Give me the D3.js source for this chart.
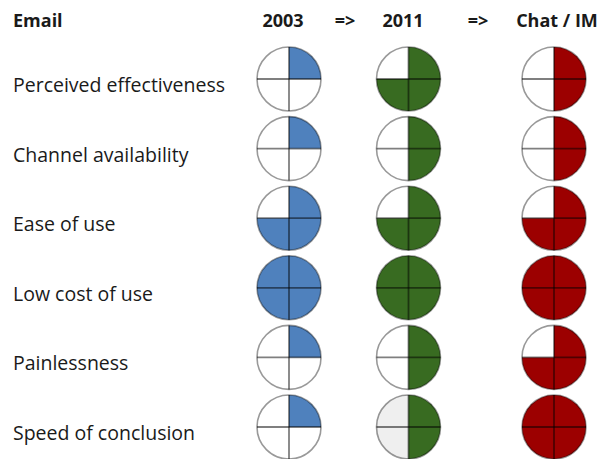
<!DOCTYPE html>
<html>
<head>
<meta charset="utf-8">
<script src="https://cdn.jsdelivr.net/npm/d3@7"></script>
<style>
  html, body { margin: 0; padding: 0; background: #fff; }
  svg { display: block; }
  text { font-family: "Open Sans", "Noto Sans", sans-serif; fill: #1a1a1a; }
</style>
</head>
<body>
<svg id="chart" width="603" height="459"></svg>
<script>
// Harvey-ball comparison of communication channels (scores in quarters, 0-4)
const categories = [
  "Perceived effectiveness",
  "Channel availability",
  "Ease of use",
  "Low cost of use",
  "Painlessness",
  "Speed of conclusion"
];
const series = ["2003", "2011", "Chat / IM"];
const values2003 = [1, 1, 3, 4, 1, 1];
const values2011 = [3, 2, 3, 4, 2, 2];
const valuesChat = [2, 2, 3, 4, 3, 4];
// cells whose unfilled part is shaded light grey (series, category)
const shadedRest = [["2011", "Speed of conclusion"]];

const headerLabels = ["Email", "2003", "=>", "2011", "=>", "Chat / IM"];
const seriesColors = ["#4f81bd", "#386b21", "#9c0000"];

const svg = d3.select("#chart");

const x = d3.scaleOrdinal().domain(series).range([289, 408.5, 554]);
const headerX = d3.scaleOrdinal().domain(d3.range(headerLabels.length))
  .range([13, 283, 345, 403, 478, 557]);
const y = d3.scalePoint().domain(categories).range([79, 427]);
const color = d3.scaleOrdinal().domain(series).range(seriesColors);
const quarter = d3.scaleLinear().domain([0, 4]).range([0, 2 * Math.PI]);

const r = 32;
const arc = d3.arc().innerRadius(0).outerRadius(r);

// header row
svg.append("g").selectAll("text")
  .data(headerLabels)
  .join("text")
  .attr("x", (d, i) => headerX(i))
  .attr("y", 27)
  .attr("text-anchor", (d, i) => i === 0 ? "start" : "middle")
  .attr("font-size", 18)
  .attr("font-weight", 700)
  .text(d => d);

// row labels
svg.append("g").selectAll("text")
  .data(categories)
  .join("text")
  .attr("x", 13)
  .attr("y", d => y(d) + 13)
  .attr("font-size", 19.5)
  .text(d => d);

// cells
const table = { "2003": values2003, "2011": values2011, "Chat / IM": valuesChat };
const cells = [];
series.forEach(s => categories.forEach((c, i) => {
  cells.push({
    series: s,
    category: c,
    value: table[s][i],
    shaded: shadedRest.some(p => p[0] === s && p[1] === c)
  });
}));

const ball = svg.append("g").selectAll("g")
  .data(cells)
  .join("g")
  .attr("transform", d => `translate(${x(d.series)},${y(d.category)})`);

ball.append("circle")
  .attr("r", r)
  .attr("fill", d => d.shaded ? "#efefef" : "#fff");

ball.filter(d => d.value > 0).append("path")
  .attr("d", d => arc({ startAngle: 0, endAngle: quarter(d.value) }))
  .attr("fill", d => color(d.series));

// quadrant cross
ball.append("line")
  .attr("x1", -r).attr("x2", r).attr("y1", 0).attr("y2", 0)
  .attr("stroke", "rgba(0,0,0,0.5)").attr("stroke-width", 1.8);
ball.append("line")
  .attr("y1", -r).attr("y2", r).attr("x1", 0).attr("x2", 0)
  .attr("stroke", "rgba(0,0,0,0.5)").attr("stroke-width", 1.8);

// outline
ball.append("circle")
  .attr("r", r)
  .attr("fill", "none")
  .attr("stroke", "rgba(0,0,0,0.4)")
  .attr("stroke-width", 1.6);
</script>
</body>
</html>
